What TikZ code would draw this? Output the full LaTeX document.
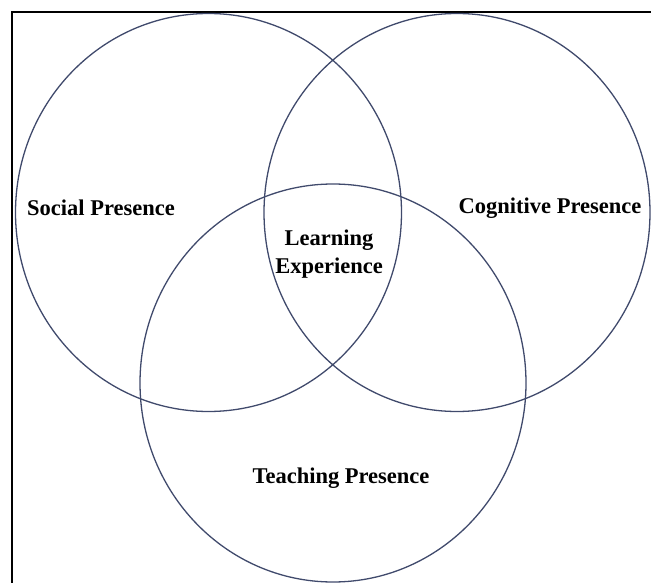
\documentclass[tikz,border=0pt]{standalone}
\usepackage{fontspec}
\setmainfont{Liberation Serif}
\usetikzlibrary{shapes.geometric}
\definecolor{ringblue}{RGB}{64,74,108}
\tikzset{
  ring/.style={ellipse,draw=ringblue,line width=1.3pt,inner sep=0pt,minimum width=386,minimum height=398},
  lbl/.style={font=\bfseries\fontsize{22.5}{28}\selectfont,align=center,inner sep=0pt}
}
\begin{document}
\begin{tikzpicture}[x=1pt,y=-1pt]
\useasboundingbox (0,0) rectangle (651,583);
\draw[line width=2pt] (12,583) -- (12,12) -- (651,12);
% the three presences
\node[ring] (social) at (208.5,212.5) {};
\node[ring] (cognitive) at (457,212.5) {};
\node[ring] (teaching) at (333,383) {};
% labels
\node[lbl] (sociallbl) at (101,208) {Social Presence};
\node[lbl] (cognitivelbl) at (550,208) {Cognitive Presence};
\node[lbl] (learning) at (329,254) {Learning\\Experience};
\node[lbl] (teachinglbl) at (341,478) {Teaching Presence};
\end{tikzpicture}
\end{document}
